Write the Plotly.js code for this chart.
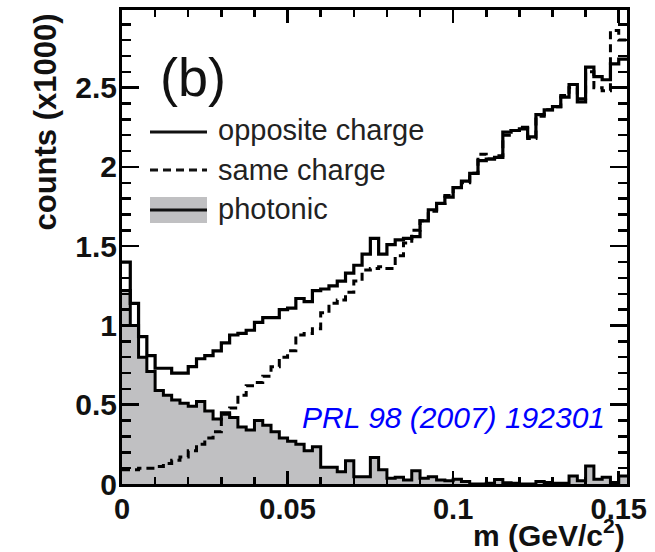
<!DOCTYPE html>
<html>
<head>
<meta charset="utf-8">
<script src="https://cdn.plot.ly/plotly-3.0.1.min.js"></script>
<style>html,body{margin:0;padding:0;background:#fff;}#chart{width:655px;height:552px;}</style>
</head>
<body>
<div id="chart"></div>
<script>
// histogram binning (GeV/c^2)
const binWidth = 0.0025;
const nBins = 61;

// counts (x1000) per bin
const oppositeCharge = [1.40,1.14,0.93,0.81,0.73,0.73,0.70,0.70,0.74,0.79,
  0.81,0.84,0.89,0.94,0.95,0.97,1.02,1.05,1.05,1.10,
  1.11,1.17,1.15,1.22,1.23,1.25,1.28,1.33,1.38,1.45,
  1.55,1.45,1.51,1.54,1.55,1.56,1.66,1.73,1.77,1.81,
  1.87,1.91,1.96,2.04,2.05,2.06,2.22,2.23,2.24,2.19,
  2.33,2.36,2.38,2.44,2.52,2.41,2.63,2.57,2.55,2.65,
  2.68];
const sameCharge = [0.09,0.09,0.10,0.10,0.11,0.13,0.15,0.17,0.21,0.25,
  0.29,0.33,0.44,0.48,0.56,0.62,0.64,0.68,0.74,0.80,
  0.84,0.94,0.95,0.98,1.08,1.14,1.16,1.21,1.28,1.35,
  1.36,1.37,1.36,1.44,1.52,1.60,1.66,1.72,1.77,1.82,
  1.87,1.90,1.96,2.08,2.05,2.07,2.20,2.23,2.25,2.18,
  2.32,2.36,2.38,2.45,2.50,2.43,2.60,2.50,2.48,2.86,
  2.80];
const photonic = [1.22,1.00,0.80,0.71,0.59,0.56,0.53,0.51,0.49,0.52,
  0.46,0.41,0.45,0.42,0.36,0.34,0.40,0.37,0.33,0.29,
  0.27,0.25,0.21,0.235,0.105,0.105,0.077,0.146,0.046,0.046,
  0.167,0.09,0.036,0.042,0.025,0.084,0.036,0.046,0.025,0.02,
  0.03,0.015,0.0,0.0,0.005,0.029,0.008,0.005,0.0,0.0,
  0.015,0.01,0.005,0.005,0.05,0.02,0.113,0.03,0.042,0.01,
  0.05];

const xTickVals = [0, 0.05, 0.1, 0.15];
const xTickText = ['0', '0.05', '0.1', '0.15'];
const yTickVals = [0, 0.5, 1, 1.5, 2, 2.5];
const yTickText = ['0', '0.5', '1', '1.5', '2', '2.5'];

const legendLabels = ['opposite charge', 'same charge', 'photonic'];
const panelLabel = '(b)';
const refLabel = 'PRL 98 (2007) 192301';
const xTitle = 'm (GeV/c<sup>2</sup>)';
const yTitle = 'counts (x1000)';

// step arrays: bin edges, values repeated at the last edge
const edges = [];
for (let i = 0; i <= nBins; i++) edges.push(+(i * binWidth).toFixed(6));
function stepY(v) { return v.concat([v[v.length - 1]]); }

const FONT = 'Liberation Sans, Arial, Helvetica, sans-serif';

const traces = [
  {x: edges, y: stepY(photonic), type: 'scatter', mode: 'lines',
   line: {shape: 'hv', color: '#000', width: 3}, fill: 'tozeroy', fillcolor: '#c0c0c2',
   hoverinfo: 'skip', showlegend: false},
  {x: edges, y: stepY(sameCharge), type: 'scatter', mode: 'lines',
   line: {shape: 'hv', color: '#000', width: 3, dash: '8px,5px'},
   hoverinfo: 'skip', showlegend: false},
  {x: edges, y: stepY(oppositeCharge), type: 'scatter', mode: 'lines',
   line: {shape: 'hv', color: '#000', width: 3.2},
   hoverinfo: 'skip', showlegend: false}
];

// plot area in pixels: left 122, right 627, top 10, bottom 484
const L = 122, R = 627, T = 10, B = 484;
const px = v => (v - L) / (R - L);
const py = v => (B - v) / (B - T);

const layout = {
  width: 655, height: 552,
  margin: {l: L, r: 655 - R, t: T, b: 552 - B, pad: 0},
  paper_bgcolor: '#fff', plot_bgcolor: '#fff',
  showlegend: false,
  xaxis: {
    range: [0, nBins * binWidth], showgrid: false, zeroline: false,
    showline: true, linewidth: 3, linecolor: '#000', mirror: 'allticks',
    ticks: 'inside', ticklen: 13, tickwidth: 2.5, tickcolor: '#000',
    tickvals: xTickVals, ticktext: xTickText,
    tickfont: {family: FONT, size: 29, color: '#111', weight: 'bold'},
    ticklabelstandoff: -3,
    minor: {dtick: 0.01, tick0: 0, ticks: 'inside', ticklen: 7, tickwidth: 2.5, tickcolor: '#000', showgrid: false}
  },
  yaxis: {
    range: [0, 2.99], showgrid: false, zeroline: false,
    showline: true, linewidth: 3, linecolor: '#000', mirror: 'allticks',
    ticks: 'inside', ticklen: 17, tickwidth: 2.5, tickcolor: '#000',
    tickvals: yTickVals, ticktext: yTickText,
    tickfont: {family: FONT, size: 30, color: '#111', weight: 'bold'},
    ticklabelstandoff: -4,
    minor: {dtick: 0.1, tick0: 0, ticks: 'inside', ticklen: 9, tickwidth: 2.5, tickcolor: '#000', showgrid: false}
  },
  shapes: [
    {type: 'line', xref: 'paper', yref: 'paper', x0: px(150), x1: px(207), y0: py(132), y1: py(132),
     line: {color: '#111', width: 3}},
    {type: 'line', xref: 'paper', yref: 'paper', x0: px(150), x1: px(207), y0: py(170), y1: py(170),
     line: {color: '#111', width: 3, dash: '8px,5px'}},
    {type: 'rect', xref: 'paper', yref: 'paper', x0: px(150), x1: px(207), y0: py(223), y1: py(197),
     fillcolor: '#c0c0c2', line: {width: 0}},
    {type: 'line', xref: 'paper', yref: 'paper', x0: px(150), x1: px(207), y0: py(210), y1: py(210),
     line: {color: '#111', width: 3}}
  ],
  annotations: [
    {text: panelLabel, xref: 'paper', yref: 'paper', x: px(158), y: py(77), xanchor: 'left', yanchor: 'middle',
     showarrow: false, font: {family: FONT, size: 54, color: '#111'}},
    {text: legendLabels[0], xref: 'paper', yref: 'paper', x: px(216), y: py(130), xanchor: 'left', yanchor: 'middle',
     showarrow: false, font: {family: FONT, size: 29, color: '#222'}},
    {text: legendLabels[1], xref: 'paper', yref: 'paper', x: px(216), y: py(170), xanchor: 'left', yanchor: 'middle',
     showarrow: false, font: {family: FONT, size: 29, color: '#222'}},
    {text: legendLabels[2], xref: 'paper', yref: 'paper', x: px(216), y: py(209), xanchor: 'left', yanchor: 'middle',
     showarrow: false, font: {family: FONT, size: 29, color: '#222'}},
    {text: refLabel, xref: 'paper', yref: 'paper', x: px(300), y: py(417), xanchor: 'left', yanchor: 'middle',
     showarrow: false, font: {family: FONT, size: 30, color: '#0000ff', style: 'italic'}},
    {text: xTitle, xref: 'paper', yref: 'paper', x: 1.0, y: py(533), xanchor: 'right', yanchor: 'middle',
     showarrow: false, font: {family: FONT, size: 30, color: '#111', weight: 'bold'}},
    {text: yTitle, xref: 'paper', yref: 'paper', x: px(45), y: py(12), xanchor: 'center', yanchor: 'top',
     textangle: -90, showarrow: false, font: {family: FONT, size: 31, color: '#111', weight: 'bold'}}
  ]
};

Plotly.newPlot('chart', traces, layout, {staticPlot: true, displayModeBar: false});
</script>
</body>
</html>
